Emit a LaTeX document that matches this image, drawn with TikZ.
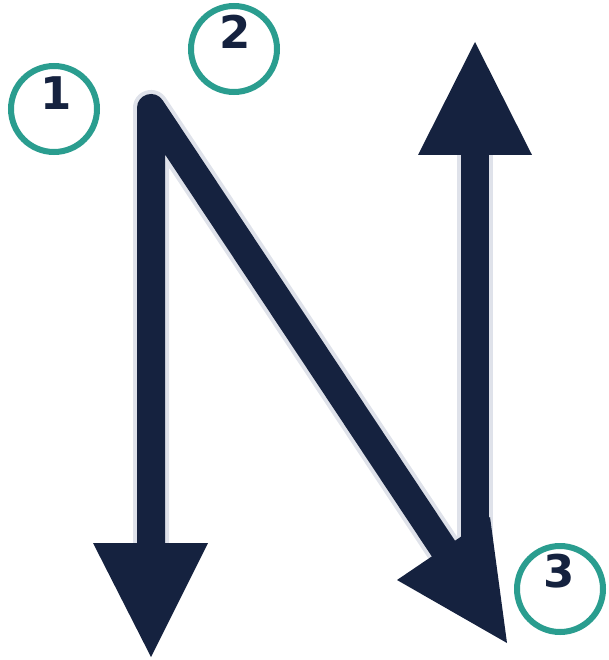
\documentclass[tikz,border=0pt]{standalone}
\usepackage{fontspec}
\setmainfont{DejaVu Sans}
\definecolor{navy}{HTML}{15223F}
\definecolor{teal}{HTML}{2A9D8F}
\definecolor{rim}{HTML}{DFE2EA}
\begin{document}
\begin{tikzpicture}[x=1pt,y=-1pt,
  shaftrim/.style={draw=rim,line width=36pt,line join=round},
  shaft/.style={draw=navy,line width=28pt,line join=round},
  head/.style={fill=navy},
  badge/.style={draw=teal,line width=6pt,fill=white,circle,minimum size=86pt,inner sep=0pt},
  num/.style={text=navy,font=\fontsize{45}{45}\selectfont\bfseries,inner sep=0pt}]
\useasboundingbox (0,0) rectangle (608,660);
\coordinate (A) at (151,108);
\coordinate (B) at (151,548);
\coordinate (C) at (445,551);
\coordinate (D) at (475,540);
\coordinate (E) at (475,152);
% rims
\draw[shaftrim] (B) -- (A) -- (C);
\draw[shaftrim] (D) -- (E);
% shafts
\draw[shaft] (B) -- (A) -- (C);
\draw[shaft] (D) -- (E);
% heads
\fill[head] (93,543) -- (208,543) -- (151,657) -- cycle;
\fill[head] (418,155) -- (532,155) -- (475,42) -- cycle;
\fill[head] (397,580) -- (490,517) -- (507,643) -- cycle;
% badges
\node[badge] (c1) at (54,109) {};
\node[badge] (c2) at (234,49) {};
\node[badge] (c3) at (560,589) {};
\node[num] (n1) at (56,93) {1};
\node[num] (n2) at (235,32) {2};
\node[num] (n3) at (559,571) {3};
\end{tikzpicture}
\end{document}
